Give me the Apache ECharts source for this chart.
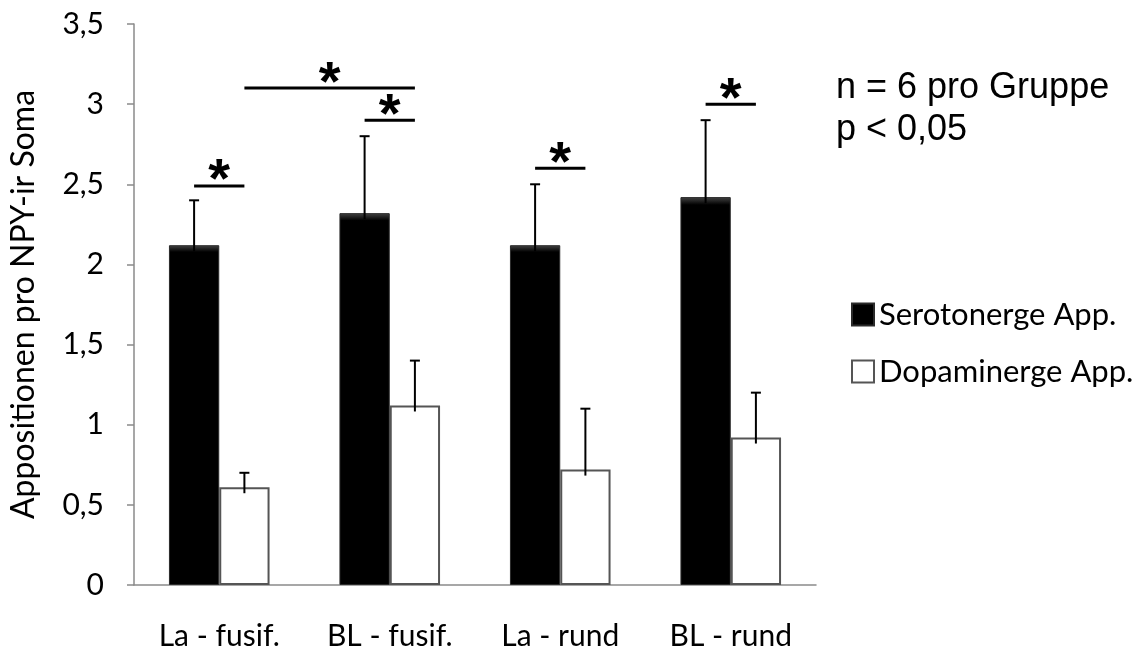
<!DOCTYPE html>
<html>
<head>
<meta charset="utf-8">
<script src="https://cdn.jsdelivr.net/npm/echarts@6/dist/echarts.min.js"></script>
<style>html,body{margin:0;padding:0;background:#fff}#c{width:1141px;height:653px}</style>
</head>
<body>
<div id="c"></div>
<script>
const categories = ['La - fusif.', 'BL - fusif.', 'La - rund', 'BL - rund'];
const seriesNames = ['Serotonerge App.', 'Dopaminerge App.'];
const serotonerg = [2.12, 2.32, 2.12, 2.42];
const serotonergErr = [0.28, 0.48, 0.38, 0.48];
const dopaminerg = [0.61, 1.12, 0.72, 0.92];
const dopaminergErr = [0.09, 0.28, 0.38, 0.28];
const yMin = 0, yMax = 3.5, yInterval = 0.5;
// significance brackets: [fromCategory, fromSeries, toCategory, toSeries, level]
const sigBrackets = [
  [0, 0, 0, 1, 2.49],
  [0, 1, 1, 1, 3.10],
  [1, 0, 1, 1, 2.90],
  [2, 0, 2, 1, 2.60],
  [3, 0, 3, 1, 3.00]
];
const noteLines = ['n = 6 pro Gruppe', 'p < 0,05'];

const CAT_GAP = 0.41;
const FONT = 'Lato';

const errData = [];
serotonerg.forEach((v, i) => errData.push([i, v, serotonergErr[i], 0]));
dopaminerg.forEach((v, i) => errData.push([i, v, dopaminergErr[i], 1]));

function barOffset(api, s) {
  const band = api.size([1, 0])[0];
  const bw = band * (1 - CAT_GAP) / 2;
  return (s === 0 ? -0.5 : 0.5) * bw;
}

const blackFill = {type: 'linear', x: 0, y: 0, x2: 0, y2: 1,
  colorStops: [{offset: 0, color: '#444'}, {offset: 0.02, color: '#000'}, {offset: 1, color: '#000'}]};

const chart = echarts.init(document.getElementById('c'), null, {renderer: 'canvas'});
chart.setOption({
  animation: false,
  backgroundColor: '#fff',
  grid: {left: 134, right: 325, top: 24, bottom: 68, containLabel: false, outerBoundsMode: 'none'},
  legend: {
    orient: 'vertical', left: 846, top: 294, itemGap: 26,
    itemWidth: 22, itemHeight: 22, icon: 'rect',
    textStyle: {fontFamily: FONT, fontSize: 31, color: '#000'},
    data: seriesNames
  },
  xAxis: {
    type: 'category', data: categories,
    axisLine: {lineStyle: {color: '#8a8a8a', width: 1.5}},
    axisTick: {length: 10, lineStyle: {color: '#8a8a8a', width: 1.5}},
    axisLabel: {fontFamily: FONT, fontSize: 30, color: '#000', margin: 36}
  },
  yAxis: {
    type: 'value', min: yMin, max: yMax, interval: yInterval,
    name: 'Appositionen pro NPY-ir Soma', nameLocation: 'middle', nameGap: 94,
    nameTextStyle: {fontFamily: FONT, fontSize: 32, color: '#000'},
    splitLine: {show: false},
    axisLine: {show: true, lineStyle: {color: '#8a8a8a', width: 1.5}},
    axisTick: {show: true, length: 7, lineStyle: {color: '#8a8a8a', width: 1.5}},
    axisLabel: {fontFamily: FONT, fontSize: 30, color: '#000', margin: 30,
      formatter: v => String(v).replace('.', ',')}
  },
  series: [
    {name: seriesNames[0], type: 'bar', data: serotonerg, barGap: '0%', barCategoryGap: (CAT_GAP * 100) + '%',
      itemStyle: {color: blackFill, borderColor: '#2a2a2a', borderWidth: 1}},
    {name: seriesNames[1], type: 'bar', data: dopaminerg, barGap: '0%', barCategoryGap: (CAT_GAP * 100) + '%',
      itemStyle: {color: '#fff', borderColor: '#555', borderWidth: 2}},
    {type: 'custom', data: errData, z: 5, silent: true,
      encode: {x: 0, y: 1},
      renderItem: function (params, api) {
        const c = api.value(0), v = api.value(1), e = api.value(2), s = api.value(3);
        const p0 = api.coord([c, v]);
        const p1 = api.coord([c, v + e]);
        const x = p0[0] + barOffset(api, s);
        const st = {stroke: '#000', lineWidth: 2};
        return {type: 'group', children: [
          {type: 'line', shape: {x1: x, y1: p0[1] + 6, x2: x, y2: p1[1]}, style: st},
          {type: 'line', shape: {x1: x - 5, y1: p1[1], x2: x + 5, y2: p1[1]}, style: st}
        ]};
      }},
    {type: 'custom', data: sigBrackets, z: 6, silent: true,
      encode: {x: [0, 2], y: 4},
      renderItem: function (params, api) {
        const c0 = api.value(0), s0 = api.value(1), c1 = api.value(2), s1 = api.value(3), y = api.value(4);
        const a = api.coord([c0, y]), b = api.coord([c1, y]);
        const x0 = a[0] + barOffset(api, s0), x1 = b[0] + barOffset(api, s1);
        return {type: 'group', children: [
          {type: 'line', shape: {x1: x0, y1: a[1], x2: x1, y2: a[1]}, style: {stroke: '#000', lineWidth: 3}},
          {type: 'text', x: (x0 + x1) / 2, y: a[1] - 4,
            style: {text: '*', font: 'bold 56px "Liberation Sans"', fill: '#000', align: 'center', verticalAlign: 'middle'}}
        ]};
      }}
  ],
  graphic: [{
    type: 'text', left: 836, top: 67,
    style: {text: noteLines.join('\n'), font: '36px "Liberation Sans"', fill: '#000', lineHeight: 42}
  }]
});
</script>
</body>
</html>
